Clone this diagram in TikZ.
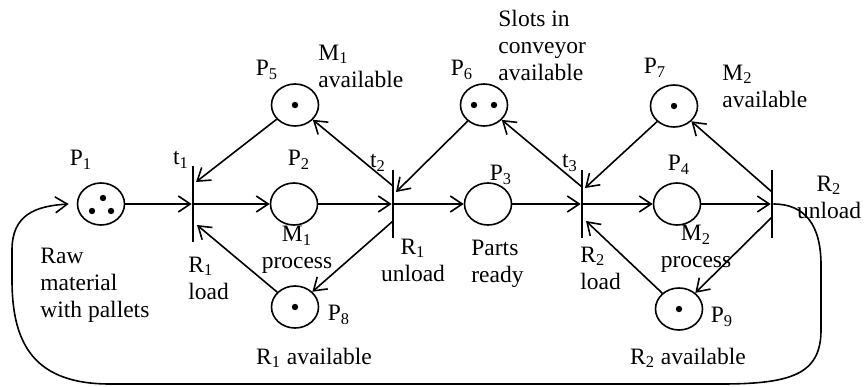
\documentclass[tikz,border=0pt]{standalone}
\usepackage{fontspec}
\setmainfont{Liberation Serif}
\usetikzlibrary{arrows.meta,shapes.geometric,calc}
\newcommand{\sbs}[1]{\textsubscript{#1}}

\begin{document}
\begin{tikzpicture}[x=0.5pt,y=-0.5pt,
  font=\fontsize{11.75}{13.5}\selectfont,
  place/.style={draw,ellipse,line width=0.8pt,minimum width=23.5pt,minimum height=21pt,inner sep=0pt},
  trans/.style={fill=black,inner sep=0pt,minimum width=0.9pt,minimum height=34pt},
  arc/.style={line width=0.8pt,-{Straight Barb[length=6pt,width=8pt]}},
  lbl/.style={inner sep=0pt},
]
  \useasboundingbox (0,0) rectangle (866,386);

  % places
  \node[place] (P1) at (101,204) {};
  \node[place] (P2) at (294,204) {};
  \node[place] (P3) at (488,204) {};
  \node[place] (P4) at (677,204) {};
  \node[place] (P5) at (295,105) {};
  \node[place] (P6) at (484,105) {};
  \node[place] (P7) at (674,106) {};
  \node[place] (P8) at (295,307) {};
  \node[place] (P9) at (679,309) {};

  % transitions
  \node[trans,minimum height=38pt] (t1) at (193,204) {};
  \node[trans] (t2) at (393,204) {};
  \node[trans] (t3) at (582,204) {};
  \node[trans] (t4) at (772,204) {};

  % tokens
  \fill ([shift={(2,-6)}]P1.center) circle[radius=1.6pt];
  \fill ([shift={(-9,7)}]P1.center) circle[radius=1.6pt];
  \fill ([shift={(10,7)}]P1.center) circle[radius=1.6pt];
  \fill (P5.center) circle[radius=1.6pt];
  \fill ([xshift=-5pt]P6.center) circle[radius=1.6pt];
  \fill ([xshift=5pt]P6.center) circle[radius=1.6pt];
  \fill (P7.center) circle[radius=1.6pt];
  \fill (P8.center) circle[radius=1.6pt];
  \fill (P9.center) circle[radius=1.6pt];

  % main line
  \draw[arc] (P1) -- (t1);
  \draw[arc] (t1) -- (P2);
  \draw[arc] (P2) -- (t2);
  \draw[arc] (t2) -- (P3);
  \draw[arc] (P3) -- (t3);
  \draw[arc] (t3) -- (P4);
  \draw[arc] (P4) -- (t4);

  % resources
  \draw[arc] (P5) -- ($(t1)+(3,-22)$);
  \draw[arc] ($(t2)+(0,-18)$) -- (P5);
  \draw[arc] (P6) -- ($(t2)+(3,-12)$);
  \draw[arc] ($(t3)+(0,-17)$) -- (P6);
  \draw[arc] (P7) -- ($(t3)+(3,-16)$);
  \draw[arc] ($(t4)+(0,-12)$) -- (P7);
  \draw[arc] (P8) -- ($(t1)+(4,21)$);
  \draw[arc] ($(t2)+(0,17)$) -- (P8);
  \draw[arc] (P9) -- ($(t3)+(4,17)$);
  \draw[arc] ($(t4)+(0,13)$) -- (P9);

  % pallets back to the start
  \draw[arc] (t4.east) .. controls (805,204) and (821,225) .. (821,265)
    -- (821,330) .. controls (821,375) and (790,384) .. (720,384)
    -- (110,384) .. controls (35,384) and (12,345) .. (12,280)
    -- (12,250) .. controls (12,215) and (35,206) .. ([xshift=-4pt]P1.west);

  % labels
  \node[lbl] (lP1) at (81,160) {P\sbs{1}};
  \node[lbl] (lt1) at (181,160) {t\sbs{1}};
  \node[lbl] (lP2) at (299,160) {P\sbs{2}};
  \node[lbl] (lt2) at (378,163) {t\sbs{2}};
  \node[lbl] (lP3) at (501,175) {P\sbs{3}};
  \node[lbl] (lt3) at (570,163) {t\sbs{3}};
  \node[lbl] (lP4) at (679,165) {P\sbs{4}};
  \node[lbl] (lP5) at (267,70) {P\sbs{5}};
  \node[lbl] (lP6) at (462,70) {P\sbs{6}};
  \node[lbl] (lP7) at (655,68) {P\sbs{7}};
  \node[lbl] (lP8) at (339,315) {P\sbs{8}};
  \node[lbl] (lP9) at (722,317) {P\sbs{9}};

  \node[lbl,align=left,anchor=west] (m1av) at (318,66) {M\sbs{1}\\available};
  \node[lbl,align=left,anchor=west] (slots) at (498,45) {Slots in\\conveyor\\available};
  \node[lbl,align=left,anchor=west] (m2av) at (722,86) {M\sbs{2}\\available};
  \node[lbl,align=center] (r2un) at (829,197) {R\sbs{2}\\unload};
  \node[lbl,align=left,anchor=west] (raw) at (40,285) {Raw\\material\\with pallets};
  \node[lbl,align=left,anchor=west] (r1ld) at (188,278) {R\sbs{1}\\load};
  \node[lbl,align=center] (m1pr) at (297,250) {M\sbs{1}\\process};
  \node[lbl,align=center] (r1un) at (413,260) {R\sbs{1}\\unload};
  \node[lbl,align=left,anchor=west] (parts) at (471,264) {Parts\\ready};
  \node[lbl,align=left,anchor=west] (r2ld) at (580,268) {R\sbs{2}\\load};
  \node[lbl,align=center] (m2pr) at (696,249) {M\sbs{2}\\process};
  \node[lbl] (r1av) at (314,358) {R\sbs{1} available};
  \node[lbl] (r2av) at (688,358) {R\sbs{2} available};
\end{tikzpicture}
\end{document}
